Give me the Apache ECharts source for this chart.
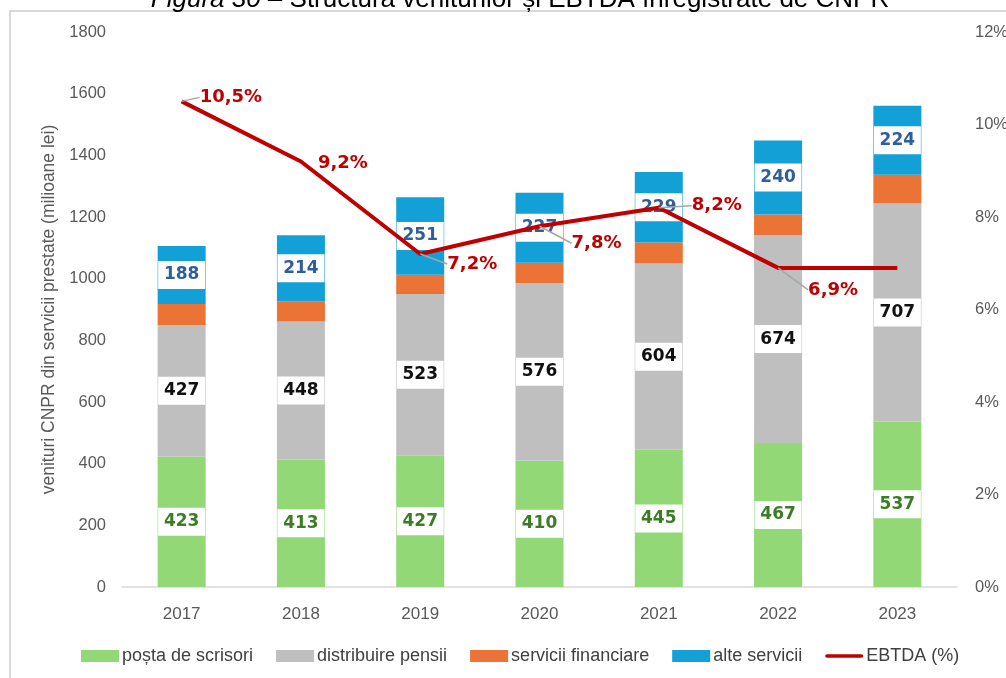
<!DOCTYPE html>
<html>
<head>
<meta charset="utf-8">
<script src="https://cdn.jsdelivr.net/npm/echarts@6/dist/echarts.min.js"></script>
<style>
  html, body { margin: 0; padding: 0; background: #fff; }
  #chart { width: 1006px; height: 678px; }
</style>
</head>
<body>
<div id="chart"></div>
<script>
  // categories and values
  var years = ["2017", "2018", "2019", "2020", "2021", "2022", "2023"];
  var postaScrisori = [423, 413, 427, 410, 445, 467, 537];
  var distribuirePensii = [427, 448, 523, 576, 604, 674, 707];
  var serviciiFinanciare = [68, 66, 63, 66, 68, 67, 93];
  var alteServicii = [188, 214, 251, 227, 229, 240, 224];
  var ebtda = [10.5, 9.2, 7.2, 7.8, 8.2, 6.9, 6.9];
  // where each EBTDA label sits relative to its point
  var ebtdaLabelShift = [[13, -4], [12, 2], [22, 10], [27, 17], [28, -2], [25, 22], null];

  var chart = echarts.init(document.getElementById("chart"));

  function boxLabel(color) {
    return {
      show: true,
      position: "inside",
      color: color,
      fontFamily: "DejaVu Sans",
      fontWeight: "bold",
      fontSize: 17,
      backgroundColor: "#fff",
      width: 47,
      height: 28,
      lineHeight: 28,
      align: "center",
      verticalAlign: "middle"
    };
  }

  var barW = 48;

  chart.setOption({
    animation: false,
    title: {
      text: "{i|Figura 30} – Structura veniturilor și EBTDA înregistrate de CNPR",
      left: 515,
      textAlign: "center",
      top: -18,
      textStyle: {
        fontFamily: "Liberation Sans",
        fontWeight: "normal",
        fontSize: 26,
        color: "#000",
        rich: { i: { fontStyle: "italic", fontSize: 26, fontFamily: "Liberation Sans" } }
      }
    },
    graphic: [{
      type: "rect",
      shape: { x: 10, y: 11, width: 1100, height: 800 },
      style: { fill: "none", stroke: "#d9d9d9", lineWidth: 2 },
      silent: true,
      z: -1
    }],
    grid: { left: 122, right: 49, top: 32, bottom: 91, outerBoundsMode: "none" },
    legend: {
      bottom: 8,
      left: 76,
      itemGap: 23,
      itemWidth: 38,
      itemHeight: 12,
      textStyle: { fontFamily: "Liberation Sans", fontSize: 18, color: "#404040", padding: [0, 0, 0, -2] },
      data: [
        { name: "poșta de scrisori", icon: "rect" },
        { name: "distribuire pensii", icon: "rect" },
        { name: "servicii financiare", icon: "rect" },
        { name: "alte servicii", icon: "rect" },
        { name: "EBTDA (%)", icon: "path://M2,0 H42 A2,2 0 0 1 42,4 H2 A2,2 0 0 1 2,0 Z" }
      ]
    },
    xAxis: {
      type: "category",
      data: years,
      axisTick: { show: false },
      axisLine: { lineStyle: { color: "#d9d9d9", width: 1.5 } },
      axisLabel: { fontFamily: "Liberation Sans", fontSize: 17, color: "#595959", margin: 19 }
    },
    yAxis: [
      {
        type: "value",
        min: 0,
        max: 1800,
        interval: 200,
        name: "venituri CNPR din servicii prestate (milioane lei)",
        nameLocation: "middle",
        nameGap: 64,
        nameTextStyle: { fontFamily: "Liberation Sans", fontSize: 17.5, color: "#595959" },
        splitLine: { show: false },
        axisLine: { show: false },
        axisTick: { show: false },
        axisLabel: {
          fontFamily: "Liberation Sans", fontSize: 16.5, color: "#595959", margin: 16,
          formatter: function (v) { return String(v); }
        }
      },
      {
        type: "value",
        min: 0,
        max: 12,
        interval: 2,
        splitLine: { show: false },
        axisLine: { show: false },
        axisTick: { show: false },
        axisLabel: {
          fontFamily: "Liberation Sans", fontSize: 16.5, color: "#595959", margin: 18,
          formatter: "{value}%"
        }
      }
    ],
    series: [
      {
        name: "poșta de scrisori",
        type: "bar",
        stack: "v",
        barWidth: barW,
        itemStyle: { color: "#92d877" },
        label: boxLabel("#3b7d23"),
        data: postaScrisori
      },
      {
        name: "distribuire pensii",
        type: "bar",
        stack: "v",
        barWidth: barW,
        itemStyle: { color: "#bfbfbf" },
        label: boxLabel("#111"),
        data: distribuirePensii
      },
      {
        name: "servicii financiare",
        type: "bar",
        stack: "v",
        barWidth: barW,
        itemStyle: { color: "#ea7335" },
        data: serviciiFinanciare
      },
      {
        name: "alte servicii",
        type: "bar",
        stack: "v",
        barWidth: barW,
        itemStyle: { color: "#12a0d7" },
        label: boxLabel("#2e5f9c"),
        data: alteServicii
      },
      {
        name: "EBTDA (%)",
        type: "line",
        yAxisIndex: 1,
        symbol: "circle",
        symbolSize: 0.1,
        showSymbol: true,
        z: 5,
        lineStyle: { color: "#c00000", width: 4 },
        itemStyle: { color: "#c00000" },
        label: {
          show: true,
          position: "right",
          distance: 5,
          color: "#c00000",
          fontFamily: "DejaVu Sans",
          fontWeight: "bold",
          fontSize: 18,
          formatter: function (p) {
            return p.value.toFixed(1).replace(".", ",") + "%";
          }
        },
        labelLine: { show: true, lineStyle: { color: "#a6a6a6", width: 1.5 } },
        labelLayout: function (p) {
          var s = ebtdaLabelShift[p.dataIndex];
          if (!s) return {};
          return { dx: s[0], dy: s[1] };
        },
        data: ebtda.map(function (v, i) {
          if (!ebtdaLabelShift[i]) return { value: v, label: { show: false } };
          if (i === 1) return { value: v, labelLine: { show: false } };
          return v;
        })
      }
    ]
  });
</script>
</body>
</html>
